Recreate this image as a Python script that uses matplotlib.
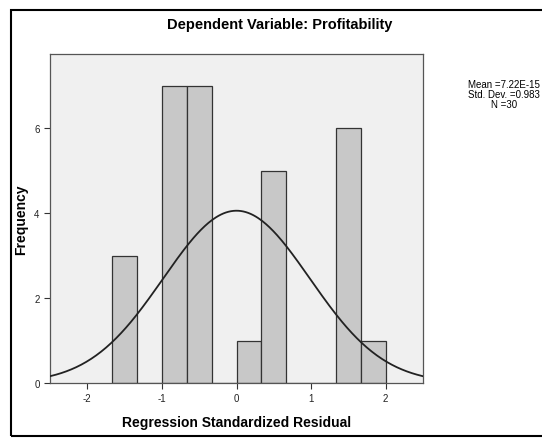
import matplotlib.pyplot as plt
import matplotlib.patches as patches
import numpy as np

plt.rcParams['font.family'] = ['Liberation Sans', 'DejaVu Sans']
plt.rcParams['axes.unicode_minus'] = False

# histogram of standardized residuals (bin width 1/3)
bin_edges = [-5/3, -4/3, -1, -2/3, -1/3, 0, 1/3, 2/3, 1, 4/3, 5/3, 2]
counts = [3, 0, 7, 7, 0, 1, 5, 0, 0, 6, 1]
mean_val = 7.22e-15
std_val = 0.983
n_obs = 30
title = 'Dependent Variable: Profitability'

fig = plt.figure(figsize=(5.42, 4.39), dpi=100)
ax = fig.add_axes([50 / 542, 1 - 384 / 439, 373 / 542, 329 / 439])

lefts = np.array(bin_edges[:-1])
widths = np.diff(bin_edges)
ax.bar(lefts, counts, width=widths, align='edge', color='#c8c8c8',
       edgecolor='#333333', linewidth=0.9, zorder=2)

# fitted normal curve
xs = np.linspace(-2.5, 2.5, 300)
bw = 1 / 3
ys = n_obs * bw * np.exp(-0.5 * ((xs - mean_val) / std_val) ** 2) / (std_val * np.sqrt(2 * np.pi))
ax.plot(xs, ys, color='#222222', linewidth=1.3, zorder=3)

ax.set_xlim(-2.5, 2.5)
ax.set_ylim(0, 7.75)
ax.set_facecolor('#f0f0f0')
ax.set_xticks([-2, -1, 0, 1, 2])
ax.set_yticks([0, 2, 4, 6])
ax.tick_params(labelsize=7, length=4, width=0.8, color='#333333', labelcolor='#222222')
for s in ax.spines.values():
    s.set_color('#555555')
    s.set_linewidth(0.9)

ax.set_xlabel('Regression Standardized Residual', fontsize=10, fontweight='bold', labelpad=8)
ax.set_ylabel('Frequency', fontsize=10, fontweight='bold')
ax.yaxis.set_label_coords(-0.058, 0.5)

fig.text(280 / 542, 1 - 25 / 439, title, fontsize=10.5, fontweight='bold', ha='center', va='center')
fig.text(504 / 542, 1 - 95 / 439, 'Mean =7.22E-15\nStd. Dev. =0.983\nN =30',
         fontsize=7, ha='center', va='center', linespacing=1.0)

# outer frame
fig.patches.append(patches.Rectangle((11 / 542, 2 / 439), 600 / 542, 426 / 439,
                                     transform=fig.transFigure, fill=False,
                                     edgecolor='black', linewidth=1.5))

plt.savefig('out.png')
